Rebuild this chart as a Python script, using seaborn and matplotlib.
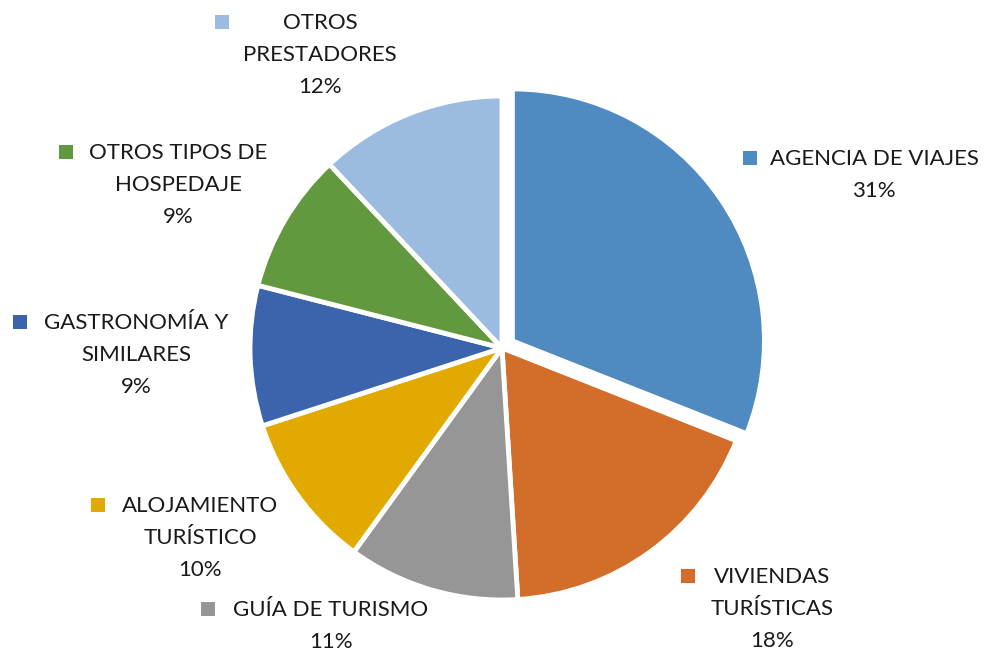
import matplotlib
matplotlib.use("Agg")
import matplotlib.pyplot as plt
from matplotlib.patches import Rectangle
import seaborn as sns

# data
categories = ["AGENCIA DE VIAJES", "VIVIENDAS TURÍSTICAS", "GUÍA DE TURISMO",
              "ALOJAMIENTO TURÍSTICO", "GASTRONOMÍA Y SIMILARES",
              "OTROS TIPOS DE HOSPEDAJE", "OTROS PRESTADORES"]
shares = [31, 18, 11, 10, 9, 9, 12]
label_lines = [
    "AGENCIA DE VIAJES\n31%",
    "VIVIENDAS\nTURÍSTICAS\n18%",
    "GUÍA DE TURISMO\n11%",
    "ALOJAMIENTO\nTURÍSTICO\n10%",
    "GASTRONOMÍA Y\nSIMILARES\n9%",
    "OTROS TIPOS DE\nHOSPEDAJE\n9%",
    "OTROS\nPRESTADORES\n12%",
]
colors = ["#4F8BC1", "#D26D2A", "#969696", "#E2AA00", "#3B64AD", "#62993E", "#9BBBE0"]

# label layout in pixels: (text centre x, first line y, key x)
W, H = 985, 652
label_pos = [
    (874, 158, 750),
    (772, 576, 688),
    (331, 609, 208),
    (200, 505, 98),
    (136, 322, 20),
    (178, 152, 66),
    (320, 22, 222),
]

sns.set_theme(style="white")
plt.rcParams["font.family"] = ["Lato", "DejaVu Sans"]
palette = sns.color_palette(colors)

fig = plt.figure(figsize=(W / 100, H / 100), dpi=100)
ax = fig.add_axes([0, 0, 1, 1])

cx, cy, r = 502, 348, 252
explode = [0.05, 0, 0, 0, 0, 0, 0]
ax.pie(shares, colors=palette, startangle=90, counterclock=False,
       explode=explode, radius=1,
       wedgeprops=dict(edgecolor="white", linewidth=3.5))
ax.set_xlim(-cx / r, (W - cx) / r)
ax.set_ylim(-(H - cy) / r, cy / r)
ax.set_aspect("auto")
ax.axis("off")

for (tx, ty, kx), text, col in zip(label_pos, label_lines, colors):
    fig.text(tx / W, 1 - (ty - 9) / H, text, ha="center", va="top",
             fontsize=16, color="#1a1a1a", linespacing=1.75,
             multialignment="center")
    fig.add_artist(Rectangle(((kx - 7) / W, 1 - (ty + 7) / H), 14 / W, 14 / H,
                             transform=fig.transFigure, color=col, lw=0))

fig.savefig("out.png", dpi=100)
